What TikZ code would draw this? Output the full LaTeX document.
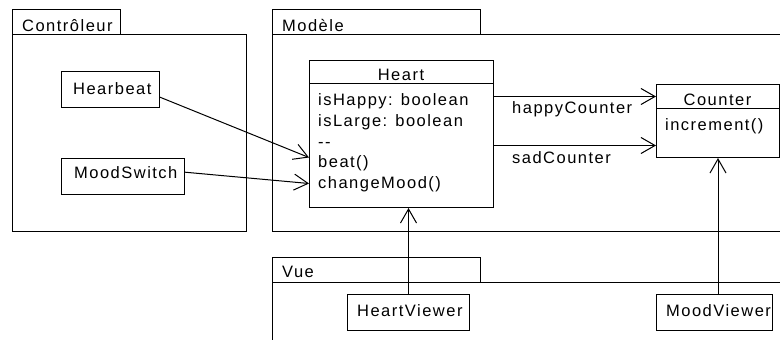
\documentclass[tikz,border=0pt]{standalone}
\usepackage{fontspec}
\setmainfont{Liberation Sans}[LetterSpace=9]
\usetikzlibrary{arrows.meta}
\tikzset{
  box/.style={draw=black, line width=1pt, inner sep=0pt, anchor=north west},
  lbl/.style={anchor=base west, inner sep=0pt, font=\fontsize{16.5}{20}\selectfont},
  clbl/.style={anchor=base, inner sep=0pt, font=\fontsize{16.5}{20}\selectfont},
  conn/.style={draw=black, line width=1pt},
  arr/.style={conn, -{Straight Barb[length=14pt, width=16pt, line width=1pt]}}
}
\begin{document}
\begin{tikzpicture}[x=1pt, y=-1pt]
\clip (0,0) rectangle (780,340);
\fill[white] (0,0) rectangle (780,340);
% Controleur package
\node[box, minimum width=108pt, minimum height=25pt] (ctab) at (12,9) {};
\node[lbl] (ctxt) at (22,31) {Contrôleur};
\node[box, minimum width=234pt, minimum height=197pt] (cpkg) at (12,34) {};
% Modele package
\node[box, minimum width=208pt, minimum height=25pt] (mtab) at (272,9) {};
\node[lbl] (mtxt) at (282,31) {Modèle};
\node[box, minimum width=530pt, minimum height=197pt] (mpkg) at (272,34) {};
% Vue package
\node[box, minimum width=208pt, minimum height=25pt] (vtab) at (272,257) {};
\node[lbl] (vtxt) at (282,277) {Vue};
\node[box, minimum width=530pt, minimum height=90pt] (vpkg) at (272,282) {};
% Controller classes
\node[box, minimum width=98pt, minimum height=36pt] (hb) at (61,71) {};
\node[lbl] (hbt) at (73,94) {Hearbeat};
\node[box, minimum width=123pt, minimum height=36pt] (ms) at (61,158) {};
\node[lbl] (mst) at (74,178) {MoodSwitch};
% Heart class
\node[box, minimum width=184pt, minimum height=147pt] (heart) at (309,60) {};
\draw[conn] (heart.north west) ++(0,-23.5pt) coordinate (hdl) -- (hdl -| heart.east);
\node[clbl] (hname) at (401,80) {Heart};
\node[lbl] (a1) at (318,105) {isHappy: boolean};
\node[lbl] (a2) at (318,126) {isLarge: boolean};
\node[lbl] (a3) at (318,147) {-{}-};
\node[lbl] (a4) at (318,167) {beat()};
\node[lbl] (a5) at (318,188) {changeMood()};
% Counter class
\node[box, minimum width=123pt, minimum height=73pt] (counter) at (656,84) {};
\draw[conn] (counter.north west) ++(0,-24pt) coordinate (cdl) -- (cdl -| counter.east);
\node[clbl] (cname) at (717.5,105) {Counter};
\node[lbl] (c1) at (665,130) {increment()};
% View classes
\node[box, minimum width=122pt, minimum height=36pt] (hv) at (347,294) {};
\node[lbl] (hvt) at (357,316) {HeartViewer};
\node[box, minimum width=116pt, minimum height=36pt] (mv) at (656,294) {};
\node[lbl] (mvt) at (666,316) {MoodViewer};
% connectors
\draw[arr] ([yshift=-7.7pt]hb.east) -- ([yshift=-23.5pt]heart.west);
\draw[arr] ([yshift=4.3pt]ms.east) -- ([yshift=-49.5pt]heart.west);
\draw[arr] ([yshift=37.5pt]heart.east) -- ([yshift=24.5pt]counter.west);
\draw[arr] ([yshift=-11.5pt]heart.east) -- ([yshift=-24.5pt]counter.west);
\node[lbl] (hcl) at (512,113) {happyCounter};
\node[lbl] (scl) at (512,163) {sadCounter};
\draw[arr] (hv.north) -- (hv.north |- heart.south);
\draw[arr] (counter.south |- mv.north) -- (counter.south);
\end{tikzpicture}
\end{document}
